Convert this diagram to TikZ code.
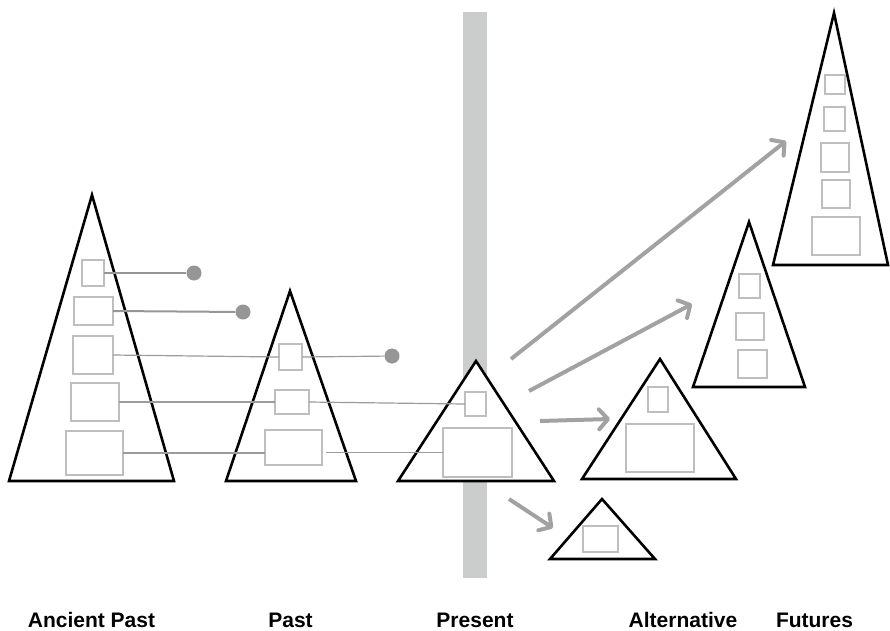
\documentclass[tikz,border=0pt]{standalone}
\usepackage{fontspec}
\setmainfont{Liberation Sans}
\usepackage{tikz}
\usetikzlibrary{arrows.meta}
\definecolor{bargray}{RGB}{203,205,204}
\definecolor{boxgray}{RGB}{190,190,190}
\definecolor{linkgray}{RGB}{155,155,155}
\definecolor{dotgray}{RGB}{150,150,150}
\definecolor{arrowgray}{RGB}{162,162,162}

\begin{document}
\begin{tikzpicture}[x=1pt,y=-1pt,
  tri/.style={draw=black,fill=white,line width=2.6pt,line join=miter},
  gbox/.style={draw=boxgray,line width=2pt,inner sep=0pt,outer sep=0pt},
  dot/.style={circle,fill=dotgray,minimum size=15pt,inner sep=0pt},
  link/.style={linkgray,line width=1.2pt},
  boldlink/.style={dotgray,line width=2pt},
  futarrow/.style={arrowgray,line width=4pt,-{Straight Barb[length=9pt,width=20pt,round]}},
  era/.style={anchor=base,font=\bfseries\fontsize{21}{24}\selectfont}]
  \useasboundingbox (0,0) rectangle (890,630);
  % the present
  \fill[bargray] (463,12) rectangle (487,578);
  % apex x / apex y / left x / right x / base y
  \foreach \ax/\ay/\lx/\rx/\by in {92/195/9/174/481,290/291/226/356/481,476/361/398/554/481,
                                   660/359/582/736/479,602/499/550/655/559,749/222/693/805/387,
                                   834/13/773/888/265}
    \filldraw[tri] (\ax,\ay) -- (\rx,\by) -- (\lx,\by) -- cycle;
  % name / centre x / centre y / width / height
  \foreach \nm/\cx/\cy/\w/\h in {a1/93/273/22/26,a2/93.5/311/39/28,a3/93/355/40/38,a4/95/402/48/38,a5/94.5/453/57/44,
                                 p1/290.5/357/23/26,p2/292/402/34/24,p3/293.5/447.5/57/35,
                                 q1/475.5/404/21/24,q2/477.5/452.5/69/49,
                                 f1/658/399.5/20/25,f2/660/448/68/48,g1/600.5/539/35/26,
                                 m1/749.5/286/21/24,m2/750/326.5/28/27,m3/752.5/364/29/28,
                                 t1/835/84.5/20/19,t2/834.5/119/21/24,t3/835/157.5/28/29,t4/836/194/28/28,t5/836/236/48/38}
    \node[gbox,minimum width=\w pt,minimum height=\h pt] (\nm) at (\cx,\cy) {};
  \node[dot] (d1) at (194,273) {};
  \node[dot] (d2) at (243,312) {};
  \node[dot] (d3) at (392,356) {};
  \draw[boldlink] (a1.east) -- (d1);
  \draw[boldlink] (a2.east) -- (d2);
  \draw[link] (a3.east) -- (p1.west);
  \draw[link] (p1.east) -- (d3);
  \draw[link] (a4.east) -- (p2.west);
  \draw[link] (p2.east) -- (q1.west);
  \draw[link] (a5.east) -- (a5.east -| p3.west);
  \draw[link] ([xshift=4pt]q2.west -| p3.east) -- (q2.west);
  % arrows into the futures
  \coordinate (s1) at (511,359); \coordinate (e1) at (786,141);
  \coordinate (s2) at (529,391); \coordinate (e2) at (692,304);
  \coordinate (s3) at (540,421); \coordinate (e3) at (610,419);
  \coordinate (s4) at (509,499); \coordinate (e4) at (553,528);
  \foreach \i in {1,...,4} \draw[futarrow] (s\i) -- (e\i);
  \node[era] (ancient) at (91.5,627) {Ancient Past};
  \node[era] (past) at (290.5,627) {Past};
  \node[era] (present) at (475,627) {Present};
  \node[era] (alt) at (683,627) {Alternative};
  \node[era] (fut) at (814.5,627) {Futures};
\end{tikzpicture}
\end{document}
